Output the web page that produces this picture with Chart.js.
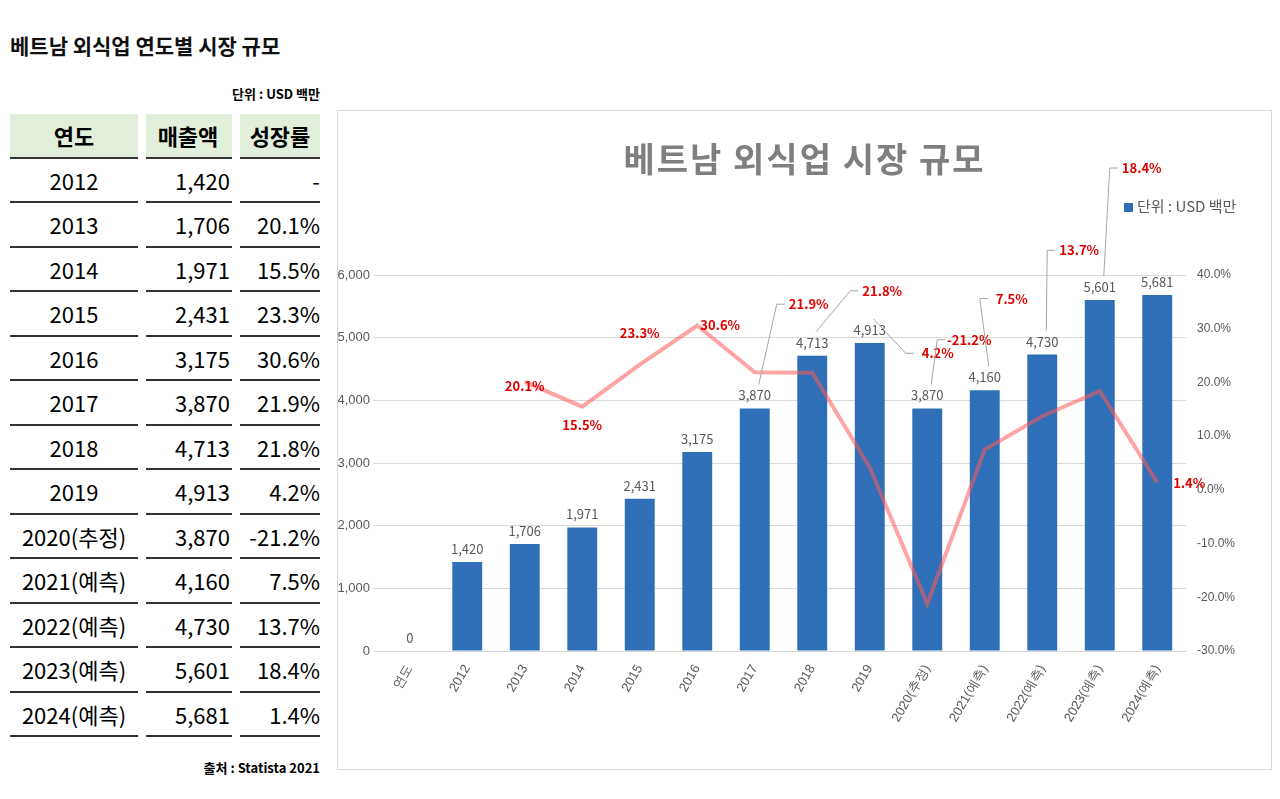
<!DOCTYPE html>
<html>
<head>
<meta charset="utf-8">
<script src="https://cdn.jsdelivr.net/npm/chart.js@4"></script>
<style>
  body { margin:0; width:1280px; height:799px; background:#fff; font-family:"Noto Sans CJK KR","Noto Sans",sans-serif; position:relative; overflow:hidden; }
  #mainTitle { position:absolute; left:10px; top:30px; font-size:21px; font-weight:bold; color:#111; }
  #unit { position:absolute; left:10px; width:310px; top:84px; text-align:right; font-size:13px; font-weight:bold; }
  #source { position:absolute; left:10px; width:310px; top:758px; text-align:right; font-size:13px; font-weight:bold; }
  table { position:absolute; left:10px; top:114px; border-collapse:separate; border-spacing:0; }
  td { height:42.5px; font-size:22px; padding:0; border-bottom:2px solid #333; }
  td.c1 { width:128px; text-align:center; }
  td.c2 { width:84px; text-align:right; padding-right:2px; }
  td.c3 { width:80px; text-align:right; }
  td.gap { width:8px; border-bottom:none; }
  tr.head td.c1, tr.head td.c2, tr.head td.c3 { background:#e2efda; font-weight:bold; text-align:center; }
  #box { position:absolute; left:337px; top:110px; width:933px; height:658px; border:1px solid #d9d9d9; }
  #chartTitle { position:absolute; left:0; width:933px; top:22px; text-align:center; font-size:34px; font-weight:bold; color:#7f7f7f; letter-spacing:2px; }
  #legend { position:absolute; left:786px; top:84px; font-size:15px; color:#595959; }
  #legend span { display:inline-block; width:9px; height:9px; background:#2e6fb7; margin-right:4px; }
  #wrap { position:absolute; left:0; top:0; width:933px; height:658px; }
</style>
</head>
<body>
<div id="mainTitle">베트남 외식업 연도별 시장 규모</div>
<div id="unit">단위 : USD 백만</div>
<table id="tbl"></table>
<div id="source">출처 : Statista 2021</div>
<div id="box">
  <div id="wrap"><canvas id="newChart"></canvas></div>
  <div id="chartTitle">베트남 외식업 시장 규모</div>
  <div id="legend"><span></span>단위 : USD 백만</div>
</div>
<script>
const years = ["2012","2013","2014","2015","2016","2017","2018","2019","2020(추정)","2021(예측)","2022(예측)","2023(예측)","2024(예측)"];
const sales = [1420,1706,1971,2431,3175,3870,4713,4913,3870,4160,4730,5601,5681];
const growth = [null,20.1,15.5,23.3,30.6,21.9,21.8,4.2,-21.2,7.5,13.7,18.4,1.4];

// table
let tbl = document.getElementById("tbl");
let html = '<tr class="head"><td class="c1">연도</td><td class="gap"></td><td class="c2">매출액</td><td class="gap"></td><td class="c3">성장률</td></tr>';
for (let i = 0; i < years.length; i++) {
    html += '<tr><td class="c1">' + years[i] + '</td><td class="gap"></td><td class="c2">' + sales[i].toLocaleString("en-US") +
        '</td><td class="gap"></td><td class="c3">' + (growth[i] === null ? "-" : growth[i].toFixed(1) + "%") + '</td></tr>';
}
tbl.innerHTML = html;

// chart data
const labels = ["연도"].concat(years);
const barData = [0].concat(sales);
const lineData = [null].concat(growth);

// label offsets for the red growth labels (dx, dy, leader line)
const lineLabelPos = {
    2: [0, 4, false], 3: [0, 18, false], 4: [0, -32, false], 5: [23, 0, false],
    6: [54, -68, true], 7: [70, -82, true], 8: [68, -114, true], 9: [42, -264, true],
    10: [27, -151, true], 11: [37, -166, true], 12: [42, -223, true], 13: [32, 1, false]
};

const labelPlugin = {
    id: "labels",
    afterDatasetsDraw(chart) {
        const c = chart.ctx;
        c.save();
        c.textAlign = "center";
        c.textBaseline = "middle";
        // bar values
        c.font = "13px 'Noto Sans CJK KR', sans-serif";
        c.fillStyle = "#595959";
        chart.getDatasetMeta(1).data.forEach((el, i) => {
            c.fillText(barData[i].toLocaleString("en-US"), el.x, el.y - 13);
        });
        // growth labels
        c.font = "bold 13px 'Noto Sans CJK KR', sans-serif";
        chart.getDatasetMeta(0).data.forEach((el, i) => {
            if (lineData[i] === null) return;
            const p = lineLabelPos[i] || [0, -20, false];
            const tx = el.x + p[0], ty = el.y + p[1];
            if (p[2]) {
                c.strokeStyle = "#a6a6a6";
                c.lineWidth = 1;
                c.beginPath();
                c.moveTo(tx - 24, ty);
                c.lineTo(tx - 32, ty);
                c.lineTo(el.x + 4, chart.scales.y.getPixelForValue(barData[i]) - 24);
                c.stroke();
            }
            c.fillStyle = "#e00000";
            c.fillText(lineData[i].toFixed(1) + "%", tx, ty);
        });
        c.restore();
    }
};

new Chart(document.getElementById("newChart"), {
    data: {
        labels: labels,
        datasets: [
            {
                type: "line",
                data: lineData,
                yAxisID: "y2",
                borderColor: "rgba(255, 90, 90, 0.55)",
                borderWidth: 4,
                pointRadius: 0,
                tension: 0,
                order: 0
            },
            {
                type: "bar",
                data: barData,
                yAxisID: "y",
                backgroundColor: "#2e6fb7",
                barPercentage: 0.52,
                categoryPercentage: 1,
                order: 1
            }
        ]
    },
    options: {
        responsive: true,
        maintainAspectRatio: false,
        animation: false,
        layout: { padding: { top: 164, bottom: 8 } },
        plugins: { legend: { display: false }, tooltip: { enabled: false } },
        scales: {
            x: {
                grid: { display: false },
                border: { color: "#d9d9d9" },
                ticks: { color: "#595959", font: { size: 13 }, maxRotation: 60, minRotation: 60 },
                afterFit: (s) => { s.height = 110; }
            },
            y: {
                position: "left",
                min: 0, max: 6000,
                ticks: { stepSize: 1000, color: "#595959", font: { size: 13 } },
                grid: { color: "#d9d9d9" },
                border: { display: false },
                afterFit: (s) => { s.width = 43; }
            },
            y2: {
                position: "right",
                min: -30, max: 40,
                ticks: { stepSize: 10, color: "#595959", font: { size: 12 }, callback: (v) => v.toFixed(1) + "%" },
                grid: { display: false },
                border: { display: false },
                afterFit: (s) => { s.width = 85; }
            }
        }
    },
    plugins: [labelPlugin]
});
</script>
</body>
</html>
